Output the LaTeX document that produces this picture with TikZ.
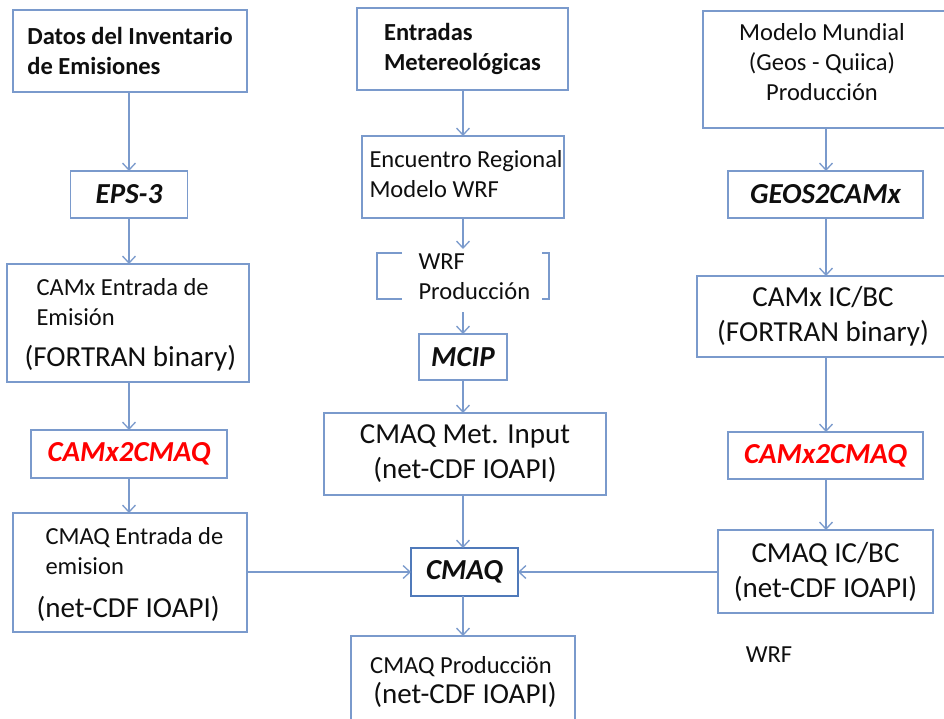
\documentclass[tikz,border=0pt]{standalone}
\usepackage{fontspec}
\setmainfont{Carlito}
\usetikzlibrary{arrows.meta}
\definecolor{boxc}{RGB}{122,154,204}
\definecolor{cmaqc}{RGB}{80,122,186}
\definecolor{txt}{RGB}{15,15,15}
\definecolor{redt}{RGB}{255,0,0}
\newcommand{\smf}{\fontsize{24.5}{30}\selectfont}
\newcommand{\bgf}{\fontsize{29}{35}\selectfont}
\tikzset{
  box/.style={draw=boxc, line width=1.4pt, inner sep=0pt, outer sep=0pt, text=txt},
  arr/.style={draw=boxc, line width=1.3pt, -{Straight Barb[length=7pt,width=13pt]}},
  smtxt/.style={font=\smf, text=txt},
  bgtxt/.style={font=\bgf, text=txt},
  smbold/.style={font=\smf\bfseries, text=txt},
  prog/.style={font=\bgf\bfseries\itshape, text=txt},
  redprog/.style={font=\bgf\bfseries\itshape, text=redt},
}
\begin{document}
\begin{tikzpicture}[x=1pt,y=-1pt]
\useasboundingbox (0,0) rectangle (944,718);
\clip (0,0) rectangle (944,718);
\fill[white] (0,0) rectangle (944,718);

% left column
\node[box, smbold, align=left, minimum width=234, minimum height=82] (datos) at (130,51) {Datos del Inventario\\de Emisiones};
\node[box, prog, minimum width=117, minimum height=47] (eps) at (129,194.5) {EPS-3};
\node[box, minimum width=242, minimum height=118] (camxe) at (128,323) {};
\node[smtxt, align=left, anchor=north west] (camxet) at (33,275) {CAMx Entrada de\\Emisión};
\node[bgtxt, anchor=west] (camxet2) at (21,358) {(FORTRAN binary)};
\node[box, redprog, minimum width=196, minimum height=48] (c2cl) at (129,454) {CAMx2CMAQ};
\node[box, minimum width=234, minimum height=119] (cmaqe) at (130,572.5) {};
\node[smtxt, align=left, anchor=north west] (cmaqet) at (42,524) {CMAQ Entrada de\\emision};
\node[bgtxt, anchor=west] (cmaqet2) at (33,609) {(net-CDF IOAPI)};

% middle column
\node[box, smbold, align=left, minimum width=211, minimum height=82] (entr) at (462.5,49) {Entradas\\Metereológicas};
\node[box, minimum width=202, minimum height=82] (encu) at (463,177) {};
\node[smtxt, align=left, anchor=west] (encut) at (366,174) {Encuentro Regional\\Modelo WRF};
\node[inner sep=0pt, outer sep=0pt, minimum width=172, minimum height=46] (wrfp) at (463,276) {};
\draw[boxc, line width=1.4pt] ([xshift=25pt]wrfp.north west) -- (wrfp.north west) -- (wrfp.south west) -- ([xshift=25pt]wrfp.south west);
\draw[boxc, line width=1.4pt] ([xshift=-7pt]wrfp.north east) -- (wrfp.north east) -- (wrfp.south east) -- ([xshift=-7pt]wrfp.south east);
\node[smtxt, align=left, anchor=west] (wrft) at (415,277) {WRF\\Producción};
\node[box, prog, minimum width=88, minimum height=46] (mcip) at (463,357) {MCIP};
\node[box, bgtxt, align=center, minimum width=282, minimum height=82] (metin) at (465,454) {CMAQ Met. Input\\(net-CDF IOAPI)};
\node[box, prog, draw=cmaqc, line width=2.8pt, minimum width=107, minimum height=48] (cmaq) at (464.5,572) {CMAQ};
\node[box, minimum width=224, minimum height=110] (prod) at (463,691) {};
\node[align=center, inner sep=0pt] (prodt) at (461,682) {{\smf\color{txt}CMAQ Producciön}\\[5pt]{\bgf\color{txt}\hspace*{8pt}(net-CDF IOAPI)}};

% right column
\node[box, minimum width=246, minimum height=117] (mm) at (826,69.5) {};
\node[smtxt, align=center] (mmt) at (822,62) {Modelo Mundial\\(Geos - Quiica)\\Producción};
\node[box, prog, minimum width=195, minimum height=47] (geos) at (825.5,194.5) {GEOS2CAMx};
\node[box, bgtxt, align=center, minimum width=258, minimum height=81] (camxic) at (826,316.5) {\hspace*{-6pt}CAMx IC/BC\\\hspace*{-6pt}(FORTRAN binary)};
\node[box, redprog, minimum width=195, minimum height=47] (c2cr) at (825.5,455.5) {CAMx2CMAQ};
\node[box, bgtxt, align=center, minimum width=215, minimum height=83] (cmaqic) at (825.5,571.5) {CMAQ IC/BC\\(net-CDF IOAPI)};
\node[smtxt] (wrfl) at (769,655) {WRF};

% connectors
\draw[arr] (datos.south -| eps.north) -- (eps.north);
\draw[arr] (eps.south) -- (eps.south |- camxe.north);
\draw[arr] (eps.south |- camxe.south) -- (eps.south |- c2cl.north);
\draw[arr] (eps.south |- c2cl.south) -- (eps.south |- cmaqe.north);

\draw[arr] (entr.south -| encu.north) -- (encu.north);
\draw[arr] (encu.south) -- ([yshift=4pt]encu.south |- wrfp.north);
\draw[arr] ([yshift=-13pt]mcip.north |- wrfp.south) -- (mcip.north);
\draw[arr] (mcip.south) -- (mcip.south |- metin.north);
\draw[arr] (mcip.south |- metin.south) -- (mcip.south |- cmaq.north);
\draw[arr] (mcip.south |- cmaq.south) -- (mcip.south |- prod.north);

\draw[arr] (mm.south) -- (mm.south |- geos.north);
\draw[arr] (mm.south |- geos.south) -- (mm.south |- camxic.north);
\draw[arr] (mm.south |- camxic.south) -- (mm.south |- c2cr.north);
\draw[arr] (mm.south |- c2cr.south) -- (mm.south |- cmaqic.north);

\draw[arr] (cmaqe.east |- cmaq.west) -- (cmaq.west);
\draw[arr] (cmaqic.west |- cmaq.east) -- (cmaq.east);
\end{tikzpicture}
\end{document}
